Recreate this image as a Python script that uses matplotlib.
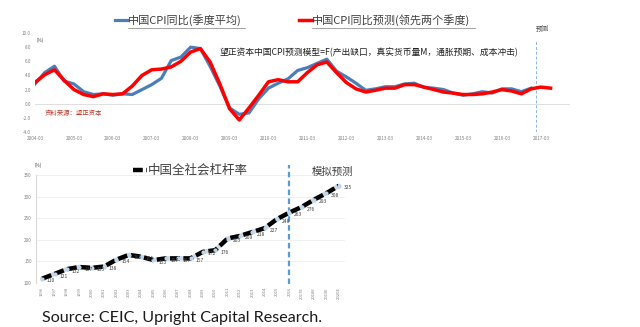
import matplotlib
matplotlib.use("Agg")
import matplotlib.pyplot as plt
from matplotlib.lines import Line2D
import numpy as np

plt.rcParams['font.family'] = ['Noto Sans CJK SC', 'DejaVu Sans']

# ---------------- data: top chart (quarterly, 2004Q1 ...) ----------------
cpi_actual = [2.8, 4.4, 5.3, 3.2, 2.8, 1.7, 1.3, 1.4,
              1.2, 1.4, 1.3, 2.0, 2.7, 3.6, 6.1, 6.6,
              8.0, 7.8, 5.3, 2.5, -0.6, -1.5, -1.3, 0.7,
              2.2, 2.9, 3.5, 4.7, 5.1, 5.7, 6.3, 4.6,
              3.8, 2.9, 1.9, 2.1, 2.4, 2.4, 2.8, 2.9,
              2.3, 2.2, 2.0, 1.5, 1.2, 1.4, 1.7, 1.5,
              2.1, 2.1, 1.7, 2.2]
cpi_forecast = [3.0, 4.1, 4.8, 3.3, 2.0, 1.3, 1.0, 1.4,
                1.3, 1.4, 2.5, 4.0, 4.8, 4.9, 5.2, 6.0,
                7.3, 7.8, 5.9, 2.8, -0.7, -2.3, -0.6, 1.2,
                3.1, 3.4, 3.1, 3.1, 4.4, 5.5, 5.9, 4.4,
                3.0, 2.1, 1.65, 1.9, 2.2, 2.2, 2.7, 2.7,
                2.35, 2.0, 1.65, 1.5, 1.3, 1.3, 1.4, 1.65,
                2.0, 1.8, 1.4, 2.1, 2.35, 2.2]
top_xticklabels = ['2004-03', '2005-03', '2006-03', '2007-03', '2008-03', '2009-03', '2010-03',
                   '2011-03', '2012-03', '2013-03', '2014-03', '2015-03', '2016-03', '2017-03']
top_yticks = [-4, -2, 0, 2, 4, 6, 8, 10]

# ---------------- data: bottom chart (annual) ----------------
years = ['1996', '1997', '1998', '1999', '2000', '2001', '2002', '2003', '2004', '2005',
         '2006', '2007', '2008', '2009', '2010', '2011', '2012', '2013', '2014', '2015',
         '2016', '2017E', '2018E', '2019E', '2020E']
leverage = [110, 121, 132, 137, 135, 138, 154, 165, 161, 153,
            157, 157, 157, 172, 176, 203, 209, 218, 227, 248,
            263, 276, 293, 308, 325]
bottom_yticks = [100, 150, 200, 250, 300, 350]

W, H = 640, 327
def fx(px): return px / W
def fy(py): return 1 - py / H

fig = plt.figure(figsize=(6.4, 3.27), dpi=100)
fig.patch.set_facecolor('white')

tick_col = '#7f7f7f'

# ================= top chart =================
ax1 = fig.add_axes([fx(35), fy(132), fx(570) - fx(35), (132 - 33) / H])
q_act = np.arange(len(cpi_actual))
q_fc = np.arange(len(cpi_forecast))
ax1.plot(q_act, cpi_actual, color='#4a7ebb', lw=2.3, zorder=3, solid_joinstyle='round')
ax1.plot(q_fc, cpi_forecast, color='#ff0000', lw=2.5, zorder=4, solid_joinstyle='round')
ax1.axhline(0, color='#d9d9d9', lw=0.6, zorder=1)
ax1.axvline(51.5, ymin=0.0, ymax=0.93, color='#8fb4e3', lw=0.7, ls=(0, (3, 2)), zorder=2)
ax1.set_xlim(0, 55)
ax1.set_ylim(-4, 10)
ax1.set_yticks(top_yticks)
ax1.set_yticklabels([f'{v:.1f}' for v in top_yticks], fontsize=3.3, color=tick_col)
ax1.set_xticks(np.arange(0, 53, 4))
ax1.set_xticklabels(top_xticklabels, fontsize=3.3, color=tick_col)
ax1.tick_params(length=0, pad=3)
for s in ax1.spines.values():
    s.set_visible(False)
ax1.patch.set_alpha(0)

fig.text(fx(37), fy(40), '(%)', fontsize=3.3, color='#404040', va='center', ha='left')
fig.text(fx(220), fy(52), '望正资本中国CPI预测模型=F(产出缺口，真实货币量M，通胀预期、成本冲击)',
         fontsize=6.3, style='italic', color='#202020', va='center', ha='left')
fig.text(fx(45), fy(113), '资料来源：望正资本', fontsize=4.6, color='#c0392b', va='center', ha='left')
fig.text(fx(536), fy(29), '预测', fontsize=4.8, color='#404040', va='center', ha='left')

# top legend
fig.add_artist(Line2D([fx(115), fx(127)], [fy(20), fy(20)], color='#4a7ebb', lw=2.3))
fig.text(fx(128), fy(20), '中国CPI同比(季度平均)', fontsize=8, color='#404040', va='center', ha='left')
fig.add_artist(Line2D([fx(299), fx(312)], [fy(20), fy(20)], color='#ff0000', lw=2.5))
fig.text(fx(312), fy(20), '中国CPI同比预测(领先两个季度)', fontsize=8, color='#404040', va='center', ha='left')
fig.add_artist(Line2D([fx(128), fx(245)], [fy(28), fy(28)], color='#7f7f7f', lw=0.5))
fig.add_artist(Line2D([fx(312), fx(475)], [fy(28), fy(28)], color='#7f7f7f', lw=0.5))

# ================= bottom chart =================
ax2 = fig.add_axes([fx(36), fy(283), fx(345) - fx(36), (283 - 175) / H])
xi = np.arange(len(leverage))
ax2.plot(xi, leverage, color='#d0d8e0', lw=3.2, zorder=3, solid_capstyle='round')
ax2.plot(xi, leverage, color='black', lw=3.2, zorder=4, ls=(0, (2.2, 0.8)))
ax2.plot(xi, leverage, ls='none', marker='o', ms=2.0, mfc='#bdd7ee', mec='#bdd7ee', zorder=5)
for i, v in enumerate(leverage):
    ax2.annotate(str(v), (i, v), xytext=(3.5, -1.5), textcoords='offset points',
                 fontsize=3.6, color='#404040', ha='left', va='center', zorder=6)
ax2.set_xlim(-0.5, 24.5)
ax2.set_ylim(100, 350)
ax2.set_yticks(bottom_yticks)
ax2.set_yticklabels([str(v) for v in bottom_yticks], fontsize=3.3, color=tick_col)
ax2.set_xticks(xi)
ax2.set_xticklabels(years, fontsize=3.0, color=tick_col, rotation=90)
ax2.tick_params(length=0, pad=3)
ax2.grid(axis='y', color='#eeeeee', lw=0.6)
ax2.set_axisbelow(True)
for k in ['top', 'right', 'bottom']:
    ax2.spines[k].set_visible(False)
ax2.spines['left'].set_color('#d9d9d9')
ax2.spines['left'].set_linewidth(0.8)
ax2.axvline(20, ymin=-0.01, ymax=1.09, color='#5b9bd5', lw=1.6, ls=(0, (2.5, 1.5)), zorder=2, clip_on=False)

fig.text(fx(35), fy(165), '(%)', fontsize=3.3, color='#404040', va='center', ha='left')
fig.add_artist(Line2D([fx(133), fx(147)], [fy(170), fy(170)], color='black', lw=3.2, ls=(0, (2.2, 0.8))))
fig.text(fx(148), fy(170), '中国全社会杠杆率', fontsize=9, color='#404040', va='center', ha='left')
fig.text(fx(312), fy(172), '模拟预测', fontsize=7.5, style='italic', color='#404040', va='center', ha='left')

# source
fig.text(fx(42), fy(318), 'Source: CEIC, Upright Capital Research.', fontsize=11.6,
         family=['Lato', 'DejaVu Sans'], color='#1a1a1a', va='center', ha='left')

fig.savefig('out.png', dpi=100, facecolor='white')
